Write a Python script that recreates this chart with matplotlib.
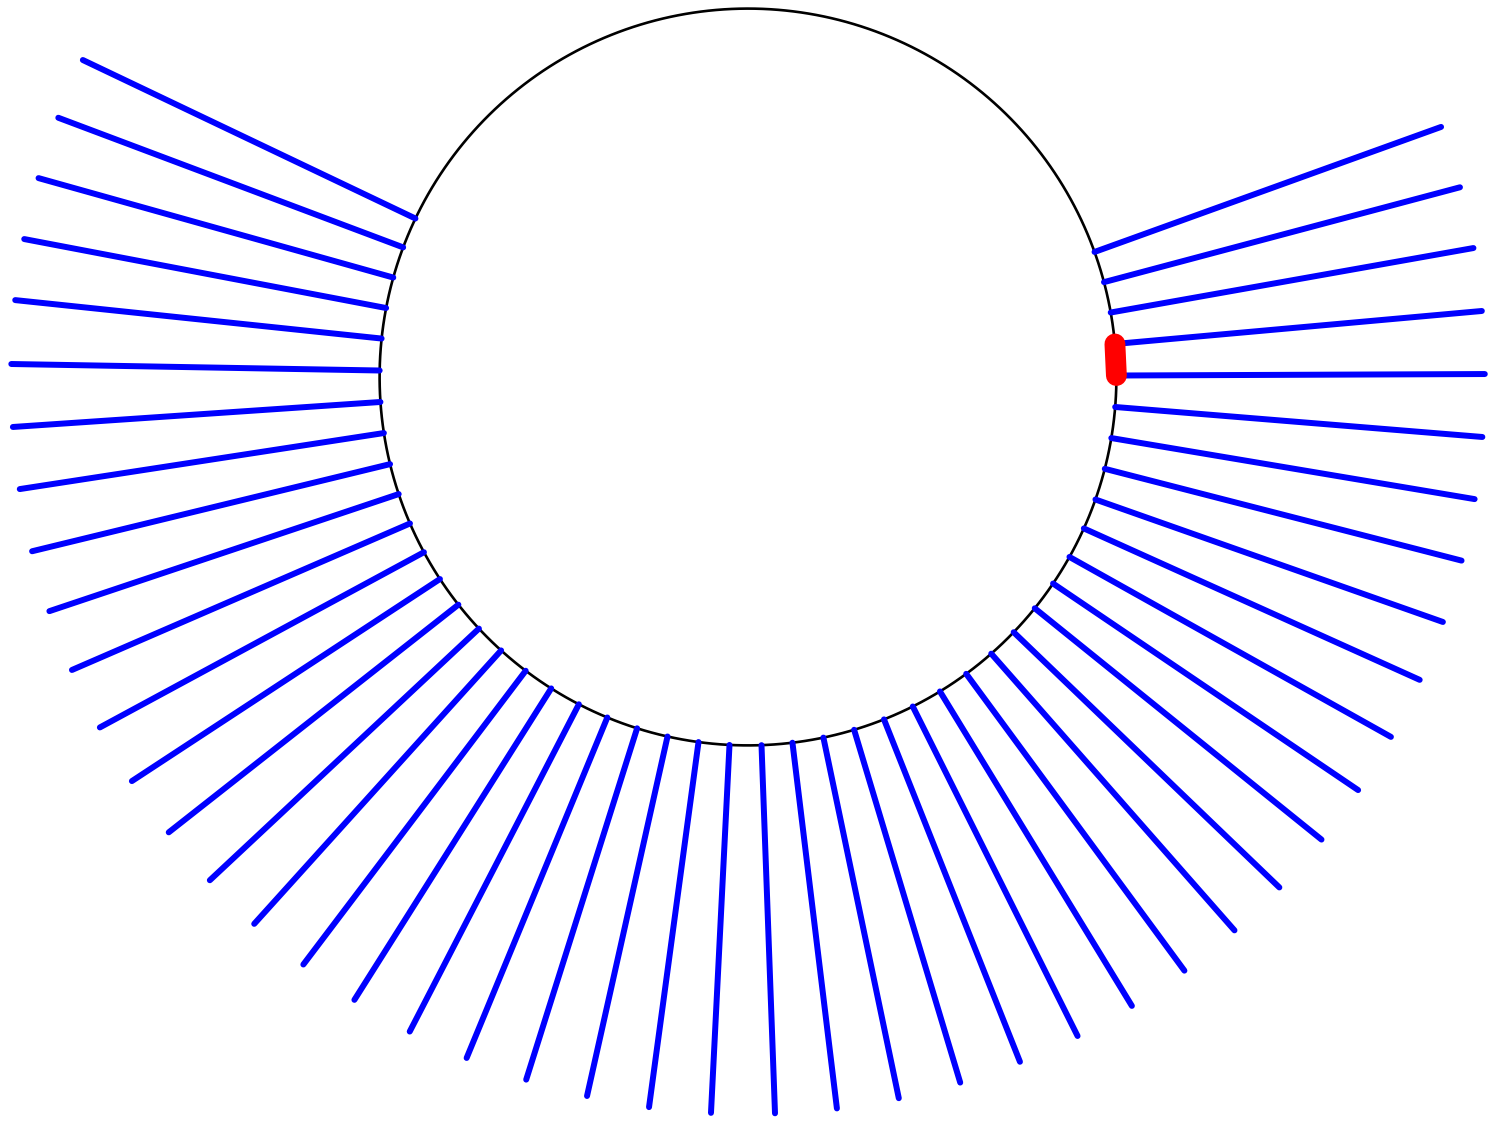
import numpy as np
import matplotlib
matplotlib.use('Agg')
import matplotlib.pyplot as plt

# --- DATOS ---
# angulos (grados) de cada segmento radial
angulos = [19.84, 14.92, 10.08, 5.14, 0.23, -4.67, -9.54, -14.43, -19.42, -24.27,
           -29.24, -34.10, -38.89, -43.85, -48.68, -53.68, -58.60, -63.43, -68.34,
           -73.26, -78.19, -83.07, -87.90, -92.88, -97.72, -102.62, -107.52, -112.45,
           -117.33, -122.29, -127.12, -132.08, -136.92, -141.83, -146.74, -151.60,
           -156.57, -161.47, -166.32, -171.25, -176.11, -181.01, -185.99, -190.79,
           -195.66, -200.60, -205.48]
radio = 1.0
largo = 1.0
# segmento rojo entre los extremos internos de estos dos radios
rojo_idx = [3, 4]

# --- FIGURA ---
fig = plt.figure(figsize=(14.97, 11.26), dpi=100)
ax = fig.add_axes([0, 0, 1, 1])

t = np.linspace(0, 2 * np.pi, 600)
ax.plot(radio * np.cos(t), radio * np.sin(t), color='black', linewidth=1.9, zorder=1)

for a in np.deg2rad(angulos):
    x0, y0 = radio * np.cos(a), radio * np.sin(a)
    x1, y1 = (radio + largo) * np.cos(a), (radio + largo) * np.sin(a)
    ax.plot([x0, x1], [y0, y1], color='#0000ff', linewidth=4.3,
            solid_capstyle='round', zorder=2)

ar = np.deg2rad([angulos[i] for i in rojo_idx])
ax.plot(radio * np.cos(ar), radio * np.sin(ar), color='#ff0000', linewidth=15,
        solid_capstyle='round', zorder=3)

ax.set_xlim(-2.0304, 2.0331)
ax.set_ylim(-2.0331, 1.0233)
ax.set_aspect('equal')
ax.axis('off')

fig.savefig('out.png', dpi=100)
